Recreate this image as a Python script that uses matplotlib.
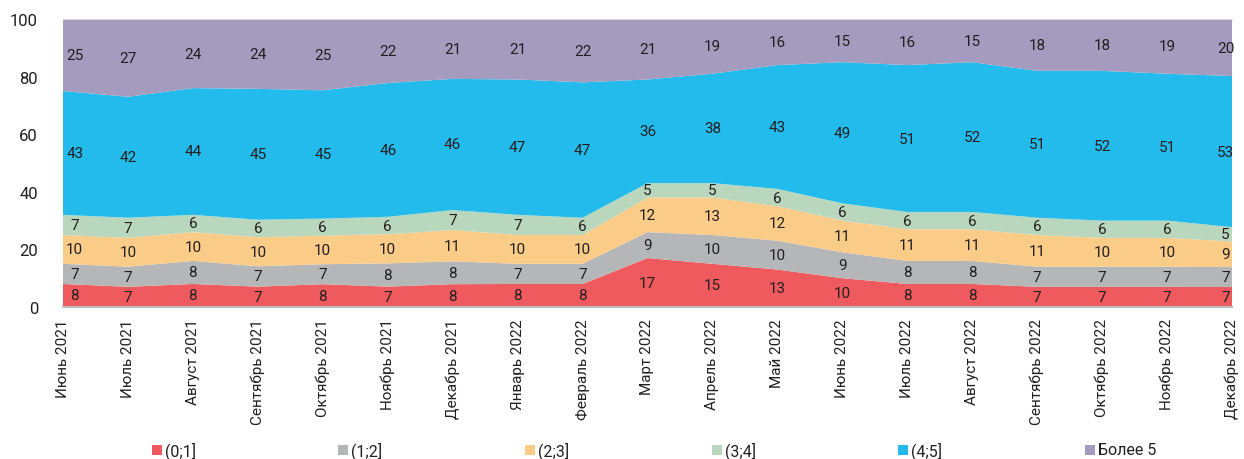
import numpy as np
import matplotlib.pyplot as plt
from matplotlib.patches import Rectangle

months = ['Июнь 2021', 'Июль 2021', 'Август 2021', 'Сентябрь 2021', 'Октябрь 2021',
          'Ноябрь 2021', 'Декабрь 2021', 'Январь 2022', 'Февраль 2022', 'Март 2022',
          'Апрель 2022', 'Май 2022', 'Июнь 2022', 'Июль 2022', 'Август 2022',
          'Сентябрь 2022', 'Октябрь 2022', 'Ноябрь 2022', 'Декабрь 2022']

s01 = [8, 7, 8, 7, 8, 7, 8, 8, 8, 17, 15, 13, 10, 8, 8, 7, 7, 7, 7]
s12 = [7, 7, 8, 7, 7, 8, 8, 7, 7, 9, 10, 10, 9, 8, 8, 7, 7, 7, 7]
s23 = [10, 10, 10, 10, 10, 10, 11, 10, 10, 12, 13, 12, 11, 11, 11, 11, 10, 10, 9]
s34 = [7, 7, 6, 6, 6, 6, 7, 7, 6, 5, 5, 6, 6, 6, 6, 6, 6, 6, 5]
s45 = [43, 42, 44, 45, 45, 46, 46, 47, 47, 36, 38, 43, 49, 51, 52, 51, 52, 51, 53]
s5p = [25, 27, 24, 24, 25, 22, 21, 21, 22, 21, 19, 16, 15, 16, 15, 18, 18, 19, 20]

series_names = ['(0;1]', '(1;2]', '(2;3]', '(3;4]', '(4;5]', 'Более 5']
colors = ['#EF5A5F', '#B5B6B8', '#FBCB88', '#B9D7BC', '#22BBEB', '#A59BBE']

num_font = 'Roboto'
txt_color = '#231F20'

data = np.array([s01, s12, s23, s34, s45, s5p], dtype=float)
# 100% stacked: rounded shares don't always add up to 100
shares = data / data.sum(axis=0) * 100
x = np.arange(len(months))

fig = plt.figure(figsize=(12.44, 4.6), dpi=100)
ax = fig.add_axes([63 / 1244, 1 - 308 / 460, (1232 - 63) / 1244, 288 / 460])

ax.stackplot(x, shares, colors=colors, linewidth=0)

# value labels in the middle of each band
cum = np.cumsum(shares, axis=0)
bottoms = cum - shares
for i in range(data.shape[0]):
    for j in range(len(x)):
        yc = (bottoms[i, j] + cum[i, j]) / 2
        xp = x[j]
        if j == 0:
            xp += 0.18
        elif j == len(x) - 1:
            xp -= 0.1
        ax.text(xp, yc, str(int(data[i, j])), ha='center', va='center',
                fontsize=11, family=num_font, color=txt_color)

ax.set_xlim(0, len(x) - 1)
ax.set_ylim(0, 100)
ax.set_yticks([0, 20, 40, 60, 80, 100])
ax.set_yticklabels(['0', '20', '40', '60', '80', '100'], family=num_font, fontsize=12)
ax.set_xticks(x)
ax.set_xticklabels(months, rotation=90, fontsize=11, family=num_font)
ax.tick_params(axis='both', length=0, colors=txt_color)
ax.tick_params(axis='x', pad=8)
ax.tick_params(axis='y', pad=18)

for side in ['left', 'right']:
    ax.spines[side].set_visible(False)
ax.spines['bottom'].set_color('#BFBFBF')
ax.spines['bottom'].set_linewidth(1.5)
ax.spines['top'].set_color('#D9D9D9')

# legend row along the bottom
W, H = 1244, 460
for k, (name, c) in enumerate(zip(series_names, colors)):
    x0 = 152 + 186.5 * k
    fig.patches.append(Rectangle((x0 / W, 1 - 456 / H), 10 / W, 10 / H,
                                 transform=fig.transFigure, facecolor=c,
                                 edgecolor='none'))
    fig.text((x0 + 13) / W, 1 - 451 / H, name, ha='left', va='center',
             fontsize=11.5, family=num_font, color=txt_color)

fig.savefig('out.png', dpi=100)
